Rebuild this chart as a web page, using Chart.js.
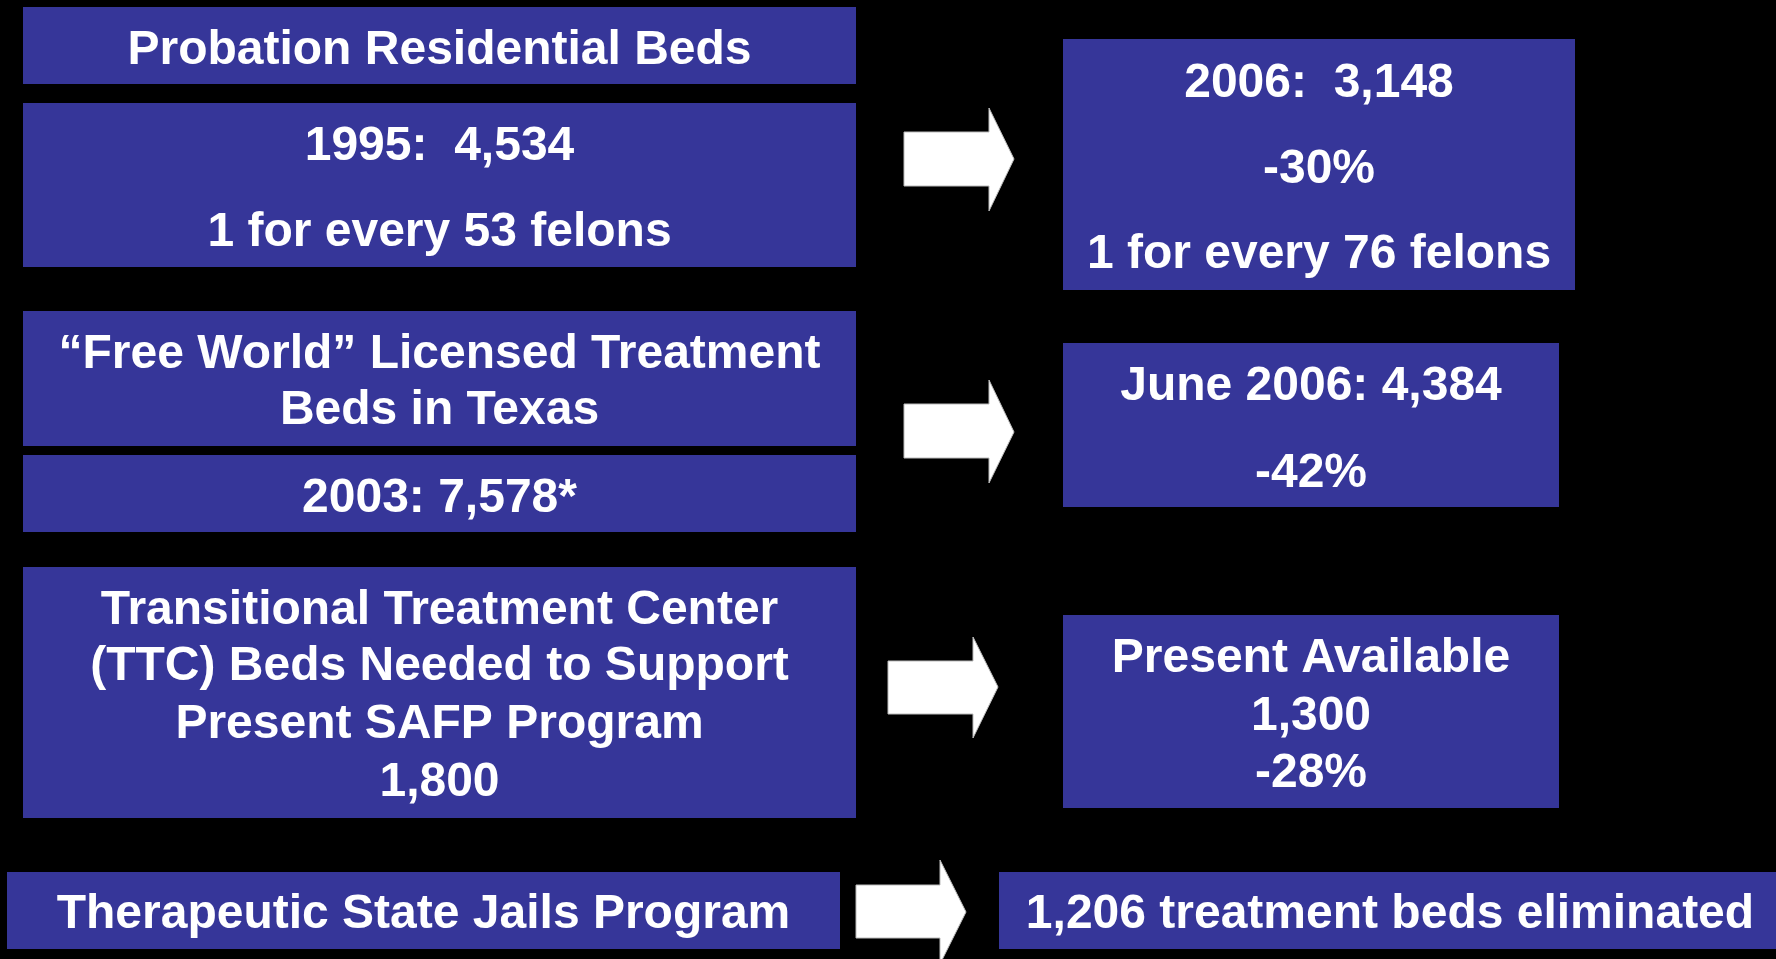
<!DOCTYPE html>
<html>
<head>
<meta charset="utf-8">
<script src="https://cdn.jsdelivr.net/npm/chart.js@4.4.1/dist/chart.umd.min.js"></script>
<style>
  html, body { margin: 0; padding: 0; background: #000; }
  #wrap { width: 1776px; height: 959px; }
</style>
</head>
<body>
<div id="wrap"><canvas id="bedsChart" width="1776" height="959"></canvas></div>
<script>
// --- Data ---
const residentialYears = ['1995', '2006'];
const residentialBeds = [4534, 3148];
const felonsPerBed = [53, 76];
const licensedLabels = ['2003', 'June 2006'];
const licensedBeds = [7578, 4384];
const ttcBeds = [1800, 1300];
const pctChange = [-30, -42, -28];
const bedsEliminated = 1206;

const fmt = n => n.toLocaleString('en-US');
const pct = n => n + '%';
const FONT = 'bold 48px "Liberation Sans"';

// --- Layout (pixel space of the hidden scales) ---
const boxes = [
    { r: [23, 7, 856, 84], lines: [['Probation Residential Beds', 64]] },
    { r: [23, 103, 856, 267], lines: [[residentialYears[0] + ':  ' + fmt(residentialBeds[0]), 160], ['1 for every ' + felonsPerBed[0] + ' felons', 246]] },
    { r: [1063, 39, 1575, 290], lines: [[residentialYears[1] + ':  ' + fmt(residentialBeds[1]), 97], [pct(pctChange[0]), 183], ['1 for every ' + felonsPerBed[1] + ' felons', 268]] },
    { r: [23, 311, 856, 446], lines: [['\u201CFree World\u201D Licensed Treatment', 368], ['Beds in Texas', 424]] },
    { r: [23, 455, 856, 532], lines: [[licensedLabels[0] + ': ' + fmt(licensedBeds[0]) + '*', 512]] },
    { r: [1063, 343, 1559, 507], lines: [[licensedLabels[1] + ': ' + fmt(licensedBeds[1]), 400], [pct(pctChange[1]), 487]] },
    { r: [23, 567, 856, 818], lines: [['Transitional Treatment Center', 624], ['(TTC) Beds Needed to Support', 680], ['Present SAFP Program', 738], [fmt(ttcBeds[0]), 796]] },
    { r: [1063, 615, 1559, 808], lines: [['Present Available', 672], [fmt(ttcBeds[1]), 730], [pct(pctChange[2]), 787]] },
    { r: [7, 872, 840, 949], lines: [['Therapeutic State Jails Program', 928]] },
    { r: [999, 872, 1776, 949], cx: 1390, lines: [[fmt(bedsEliminated) + ' treatment beds eliminated', 928]] }
];

// x0, x1 (shaft end), shaft top, shaft bottom, head top, head bottom, tip x, tip y
const arrows = [
    [904, 989, 132, 186, 108, 211, 1014, 159],
    [904, 989, 404, 458, 380, 483, 1014, 432],
    [888, 973, 661, 714, 637, 738, 998, 687],
    [856, 940, 885, 938, 860, 964, 966, 912]
];

const boxPlugin = {
    id: 'boxes',
    afterDraw(chart) {
        const { ctx, scales: { x, y } } = chart;
        const px = v => x.getPixelForValue(v);
        const py = v => y.getPixelForValue(v);
        ctx.save();
        boxes.forEach(b => {
            const [x0, y0, x1, y1] = b.r;
            ctx.fillStyle = '#363699';
            ctx.fillRect(px(x0), py(y0), px(x1) - px(x0), py(y1) - py(y0));
            ctx.fillStyle = '#fff';
            ctx.font = FONT;
            ctx.textAlign = 'center';
            ctx.textBaseline = 'alphabetic';
            const cx = b.cx !== undefined ? b.cx : (x0 + x1) / 2;
            b.lines.forEach(([t, base]) => ctx.fillText(t, px(cx), py(base)));
        });
        arrows.forEach(a => {
            const [x0, x1, st, sb, ht, hb, tx, ty] = a;
            ctx.beginPath();
            ctx.moveTo(px(x0), py(st));
            ctx.lineTo(px(x1), py(st));
            ctx.lineTo(px(x1), py(ht));
            ctx.lineTo(px(tx), py(ty));
            ctx.lineTo(px(x1), py(hb));
            ctx.lineTo(px(x1), py(sb));
            ctx.lineTo(px(x0), py(sb));
            ctx.closePath();
            ctx.fillStyle = '#fff';
            ctx.fill();
            ctx.strokeStyle = '#bbb';
            ctx.lineWidth = 1;
            ctx.stroke();
        });
        ctx.restore();
    }
};

function draw() {
    new Chart(document.getElementById('bedsChart'), {
        type: 'scatter',
        data: { datasets: [{ data: [] }] },
        options: {
            responsive: false,
            animation: false,
            layout: { padding: 0 },
            plugins: { legend: { display: false }, tooltip: { enabled: false } },
            scales: {
                x: { type: 'linear', min: 0, max: 1776, display: false },
                y: { type: 'linear', min: 0, max: 959, reverse: true, display: false }
            }
        },
        plugins: [boxPlugin]
    });
}

document.fonts.load(FONT).then(draw, draw);
</script>
</body>
</html>
